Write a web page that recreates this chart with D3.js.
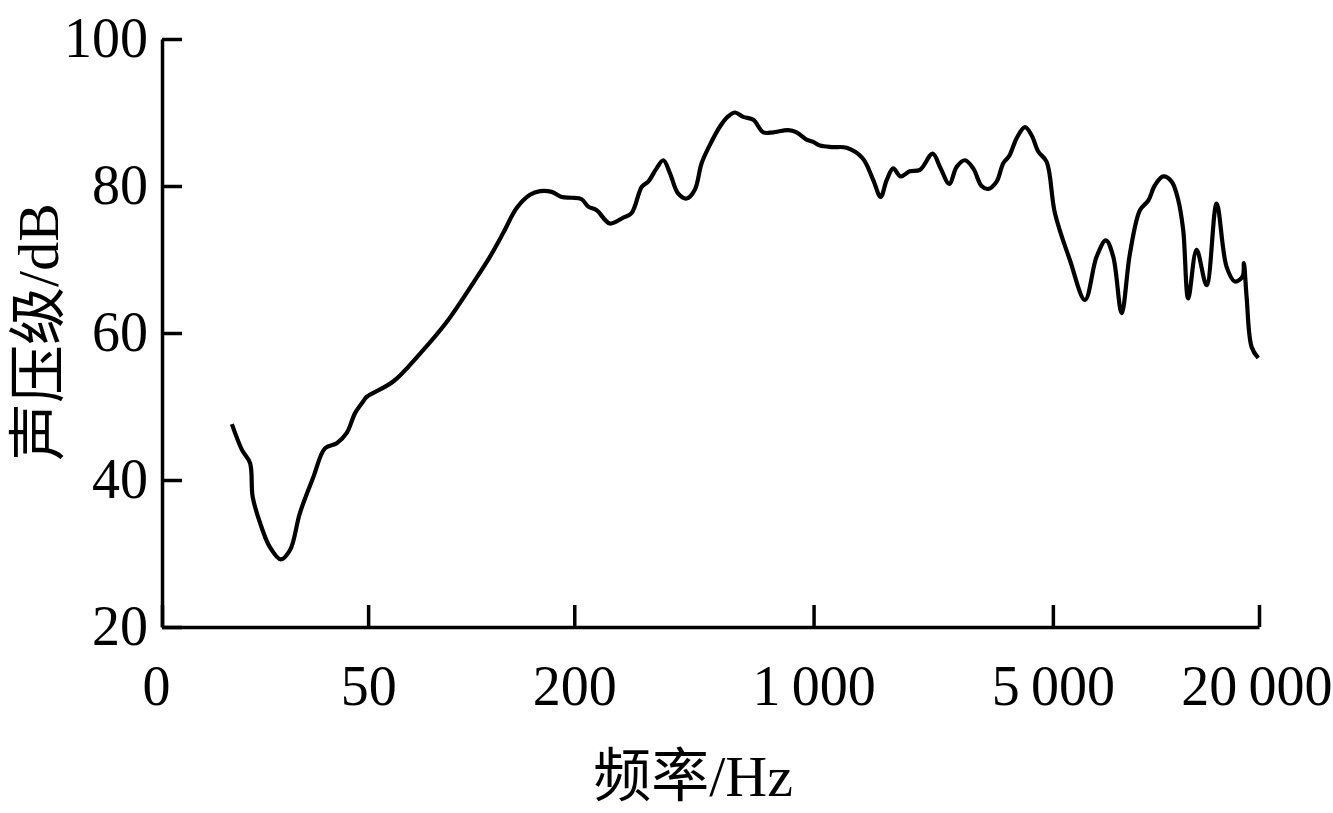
<!DOCTYPE html>
<html>
<head>
<meta charset="utf-8">
<script src="https://cdn.jsdelivr.net/npm/d3@7"></script>
<style>
  html, body { margin: 0; padding: 0; background: #fff; }
  svg { display: block; }
  text { font-family: "Liberation Serif", "Noto Sans CJK SC", serif; fill: #000; }
</style>
</head>
<body>
<svg id="chart" width="1333" height="813"></svg>
<script>
// ---- data ----
const freqHz = [20, 21.4, 22.6, 23, 24.2, 25.8, 27.8, 29.6, 31.6, 34.6, 37.4, 40.5, 43.3, 45.8, 48.4, 49.5,
  59.2, 70.9, 84.8, 102.6, 113.5, 124, 135.8, 148.5, 158.9, 171.8, 183.8, 196.6, 210.2, 219.8, 232.6,
  254, 278, 294, 315, 329, 348, 364, 381, 402, 426, 450, 471, 498, 533, 564, 590, 623, 667, 713, 762,
  843, 892, 954, 998, 1044, 1141, 1249, 1390, 1494, 1570, 1635, 1709, 1796, 1911, 2045, 2228, 2340,
  2491, 2618, 2768, 2927, 3096, 3237, 3425, 3581, 3729, 3919, 4144, 4334, 4531, 4794, 5070, 5609,
  6204, 6711, 7143, 7503, 7940, 8395, 8979, 9495, 9932, 10504, 11113, 11617, 12013, 12425, 13146,
  14060, 15038, 16083, 17013, 17913, 18068, 18400, 19030, 19895];
const splDb = [47.6, 44.1, 42.3, 37.7, 34.1, 30.9, 29.2, 30.5, 35.5, 40.4, 44.3, 45.0, 46.4, 49.1, 50.7, 51.3,
  53.4, 57.2, 61.5, 67.2, 70.4, 73.6, 77.0, 78.8, 79.3, 79.2, 78.5, 78.4, 78.2, 77.2, 76.7,
  74.9, 75.7, 76.3, 79.9, 80.6, 82.4, 83.5, 81.7, 79.0, 78.3, 79.5, 83.1, 85.6, 88.1, 89.5, 90.0, 89.4, 89.0, 87.3, 87.3,
  87.6, 87.3, 86.3, 86.0, 85.5, 85.3, 85.2, 83.8, 80.8, 78.5, 80.8, 82.4, 81.3, 82.0, 82.2, 84.4, 82.6,
  80.3, 82.6, 83.5, 82.4, 80.0, 79.6, 80.6, 83.1, 84.1, 86.5, 88.0, 86.9, 84.7, 83.3, 76.3, 69.9,
  64.5, 70.4, 72.6, 70.4, 62.7, 70.8, 76.7, 78.0, 80.1, 81.3, 80.6, 78.1, 74.0, 64.7, 71.3,
  66.5, 77.6, 69.0, 67.0, 67.7, 69.5, 64.9, 58.1, 56.6];
const xTickValues = [12.5, 50, 200, 1000, 5000, 20000];
const xTickLabels = ["0", "50", "200", "1\u2009000", "5\u2009000", "20\u2009000"];
const yTickValues = [20, 40, 60, 80, 100];
const xTitle = "频率/Hz";
const yTitle = "声压级/dB";

// ---- layout ----
const svg = d3.select("#chart");
const plotLeft = 162, plotRight = 1259, plotTop = 39, plotBottom = 627;

const x = d3.scaleLog().domain([12.5, 20000]).range([plotLeft, plotRight]);
const y = d3.scaleLinear().domain([20, 100]).range([plotBottom, plotTop]);

// axes
const axisStroke = 3.5;
const yAxis = d3.axisLeft(y).tickValues(yTickValues).tickSizeInner(-20).tickSizeOuter(0).tickPadding(14);
const gy = svg.append("g").attr("transform", `translate(${plotLeft},0)`).call(yAxis);
gy.select(".domain").attr("stroke", "#000").attr("stroke-width", axisStroke);
gy.selectAll(".tick line").attr("stroke", "#000").attr("stroke-width", axisStroke);
gy.selectAll(".tick text").attr("x", -14).attr("font-size", 56).attr("font-family", "Liberation Serif").attr("fill", "#000");

const xAxis = d3.axisBottom(x).tickValues(xTickValues)
  .tickFormat((d, i) => xTickLabels[i]).tickSizeInner(-22).tickSizeOuter(0).tickPadding(0);
const gx = svg.append("g").attr("transform", `translate(0,${plotBottom})`).call(xAxis);
gx.select(".domain").attr("stroke", "#000").attr("stroke-width", axisStroke);
gx.selectAll(".tick line").attr("stroke", "#000").attr("stroke-width", axisStroke);
gx.selectAll(".tick text").attr("y", 38).attr("dy", "0.71em").attr("font-size", 56)
  .attr("font-family", "Liberation Serif").attr("fill", "#000");
gx.selectAll(".tick").filter((d, i) => i === 0).select("text").attr("dx", -6);
gx.selectAll(".tick").filter((d, i) => i === xTickValues.length - 1).select("text")
  .attr("text-anchor", "end").attr("x", 73);

// curve
const pts = freqHz.map((f, i) => [f, splDb[i]]);
const line = d3.line().x(d => x(d[0])).y(d => y(d[1])).curve(d3.curveCatmullRom.alpha(0.5));
svg.append("path").datum(pts).attr("d", line)
  .attr("fill", "none").attr("stroke", "#000").attr("stroke-width", 4.2)
  .attr("stroke-linejoin", "round").attr("stroke-linecap", "butt");

// titles
svg.append("text").attr("x", 693).attr("y", 796).attr("text-anchor", "middle")
  .attr("font-size", 58).text(xTitle);
svg.append("text").attr("transform", "translate(58,332) rotate(-90)").attr("text-anchor", "middle")
  .attr("font-size", 58).text(yTitle);
</script>
</body>
</html>
